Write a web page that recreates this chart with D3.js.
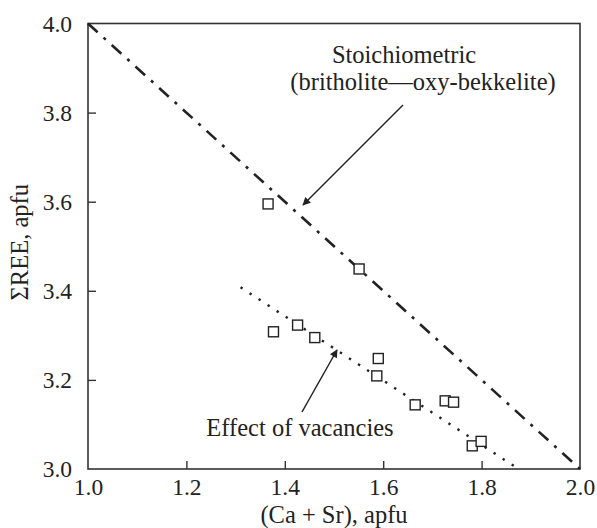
<!DOCTYPE html>
<html>
  <head>
    <meta charset="utf-8">
    <title>REE vs Ca + Sr</title>
    <script src="https://d3js.org/d3.v7.min.js"></script>
    <style>
      body { margin: 0; background: #fff; }
    </style>
  </head>
  <body>
    <div id="chart"></div>
    <script>
      // data
      var caSr = [1.366, 1.551, 1.377, 1.426, 1.461, 1.590, 1.587, 1.665, 1.726, 1.743, 1.781, 1.799];
      var sumREE = [3.595, 3.449, 3.308, 3.323, 3.295, 3.248, 3.209, 3.144, 3.153, 3.150, 3.052, 3.062];
      var stoichLine = [[1.0, 4.0], [2.0, 3.0]];
      var vacancyLine = [[1.31, 3.408], [1.875, 3.0]];
      var xTicks = [1.0, 1.2, 1.4, 1.6, 1.8, 2.0];
      var yTicks = [3.0, 3.2, 3.4, 3.6, 3.8, 4.0];

      var width = 597, height = 528;
      var margin = { top: 23.5, right: 17, bottom: 59, left: 88 };
      var serif = "'Liberation Serif', 'Times New Roman', Times, 'DejaVu Serif', serif";
      var fontSize = 24.5;

      var svg = d3.select("#chart").append("svg")
        .attr("width", width)
        .attr("height", height);

      var x = d3.scaleLinear().domain([1.0, 2.0]).range([margin.left, width - margin.right]);
      var y = d3.scaleLinear().domain([3.0, 4.0]).range([height - margin.bottom, margin.top]);

      // arrow head
      svg.append("defs").append("marker")
        .attr("id", "arrow")
        .attr("viewBox", "0 0 10 10")
        .attr("refX", 9).attr("refY", 5)
        .attr("markerWidth", 16).attr("markerHeight", 8)
        .attr("markerUnits", "userSpaceOnUse")
        .attr("orient", "auto")
        .append("path")
          .attr("d", "M0,0 L10,5 L0,10 Z")
          .attr("fill", "#222");

      // frame
      svg.append("rect")
        .attr("x", x(1.0)).attr("y", y(4.0))
        .attr("width", x(2.0) - x(1.0)).attr("height", y(3.0) - y(4.0))
        .attr("fill", "none").attr("stroke", "#333").attr("stroke-width", 1.6);

      // axes with inward ticks
      var xAxis = svg.append("g")
        .attr("transform", "translate(0," + y(3.0) + ")")
        .call(d3.axisBottom(x).tickValues(xTicks).tickFormat(d3.format(".1f")).tickSizeInner(-8).tickSizeOuter(0).tickPadding(9));
      var yAxis = svg.append("g")
        .attr("transform", "translate(" + x(1.0) + ",0)")
        .call(d3.axisLeft(y).tickValues(yTicks).tickFormat(d3.format(".1f")).tickSizeInner(-8).tickSizeOuter(0).tickPadding(16));
      [xAxis, yAxis].forEach(function(a) {
        a.attr("font-family", serif).attr("font-size", 23.5);
        a.select(".domain").remove();
        a.selectAll("line").attr("stroke", "#333").attr("stroke-width", 1.4);
        a.selectAll("text").attr("fill", "#222");
      });
      // hide corner ticks
      xAxis.selectAll(".tick line").filter(function(d) { return d == 1.0 || d == 2.0; }).remove();
      yAxis.selectAll(".tick line").filter(function(d) { return d == 3.0 || d == 4.0; }).remove();

      var labels = svg.append("g")
        .attr("font-family", serif)
        .attr("font-size", fontSize)
        .attr("fill", "#222");

      // axis titles
      labels.append("text")
        .attr("x", (x(1.0) + x(2.0)) / 2).attr("y", 523)
        .attr("text-anchor", "middle")
        .text("(Ca + Sr), apfu");
      labels.append("text")
        .attr("transform", "translate(28," + (y(3.5) - 4) + ") rotate(-90)")
        .attr("text-anchor", "middle")
        .text("ΣREE, apfu");

      var line = d3.line().x(function(d) { return x(d[0]); }).y(function(d) { return y(d[1]); });

      svg.append("path")
        .datum(stoichLine)
        .attr("d", line)
        .attr("fill", "none").attr("stroke", "#222").attr("stroke-width", 2.6)
        .attr("stroke-dasharray", "13 8 3 8");

      svg.append("path")
        .datum(vacancyLine)
        .attr("d", line)
        .attr("fill", "none").attr("stroke", "#222").attr("stroke-width", 2.4)
        .attr("stroke-dasharray", "2.4 8.4");

      // data squares
      var s = 10;
      svg.selectAll(".pt")
        .data(d3.zip(caSr, sumREE))
        .enter().append("rect")
          .attr("class", "pt")
          .attr("x", function(d) { return x(d[0]) - s / 2; })
          .attr("y", function(d) { return y(d[1]) - s / 2; })
          .attr("width", s).attr("height", s)
          .attr("fill", "#fff").attr("stroke", "#222").attr("stroke-width", 1.4);

      // annotations
      var note1 = labels.append("text").attr("text-anchor", "middle");
      note1.append("tspan").attr("x", 404).attr("y", 63).text("Stoichiometric");
      note1.append("tspan").attr("x", 423).attr("y", 90).text("(britholite\u2014oxy-bekkelite)");
      svg.append("line")
        .attr("x1", 403).attr("y1", 105).attr("x2", 303).attr("y2", 205)
        .attr("stroke", "#222").attr("stroke-width", 1.5)
        .attr("marker-end", "url(#arrow)");

      labels.append("text")
        .attr("x", 300).attr("y", 436)
        .attr("text-anchor", "middle")
        .text("Effect of vacancies");
      svg.append("line")
        .attr("x1", 302).attr("y1", 412).attr("x2", 337).attr("y2", 350)
        .attr("stroke", "#222").attr("stroke-width", 1.5)
        .attr("marker-end", "url(#arrow)");
    </script>
  </body>
</html>
